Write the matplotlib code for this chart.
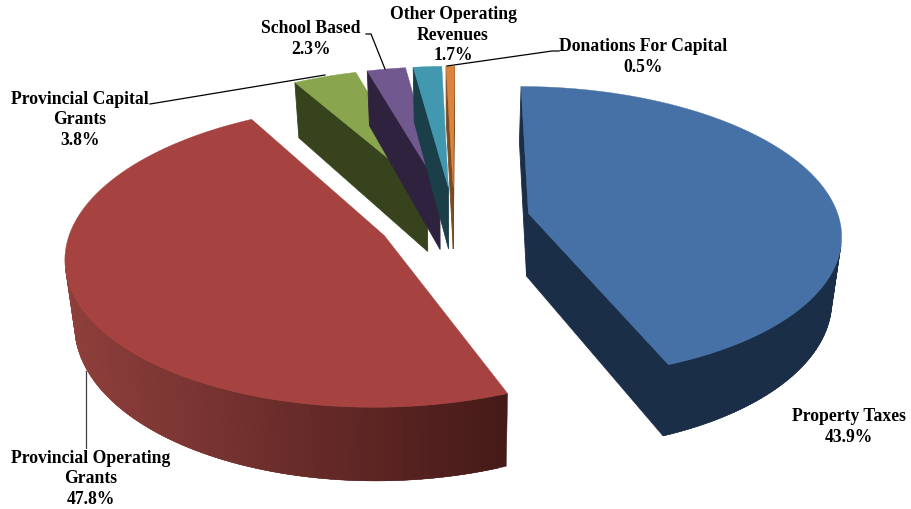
import numpy as np
import matplotlib
matplotlib.use("Agg")
import matplotlib.pyplot as plt
from matplotlib.colors import to_rgb

# chart data, clockwise from 12 o'clock
names = ["Property Taxes", "Provincial Operating\nGrants", "Provincial Capital\nGrants",
         "School Based", "Other Operating\nRevenues", "Donations For Capital"]
values = [43.9, 47.8, 3.8, 2.3, 1.7, 0.5]

top_colors = ["#4671A7", "#A64340", "#89A54E", "#71588F", "#4198AF", "#DB843D"]
wall_left = ["#1B2E47", "#8F3F3C", "#37431C", "#2E223F", "#1A3F49", "#7C4A1E"]
wall_right = ["#1B2E47", "#451A18", "#37431C", "#2E223F", "#1A3F49", "#7C4A1E"]

# how far each slice is pulled out of the pie
explode = [0.245, 0.245, 0.23, 0.23, 0.23, 0.23]

# label centre in pixels, per slice
label_x = [849, 91, 80, 311, 453, 643]
label_y = [427, 479, 120, 39, 35, 57]

# pie geometry in pixels
cx, cy = 454, 221
rx, ry = 311, 145
persp = 0.13
depth = 63
shrink = 0.975
start = np.radians(0.25)


def project(u, v, low=False):
    s = 1 / (1 + persp * v)
    x = cx + rx * u * s
    y = cy - ry * v * s
    if low:
        x = cx + (x - cx) * shrink
        y = y + depth * s
    return x, y


def area(xs, ys):
    return 0.5 * np.sum(xs * np.roll(ys, -1) - np.roll(xs, -1) * ys)


def draw_face(ax, pts, color, z, lw=0.3):
    pts = np.array(pts)
    # faces turned away from the viewer wind the other way round, skip them
    if area(pts[:, 0], pts[:, 1]) < 0:
        ax.fill(pts[:, 0], pts[:, 1], color=color, lw=lw, zorder=z)


fig = plt.figure(figsize=(9.11, 5.10), dpi=100)
ax = fig.add_axes([0, 0, 1, 1])
ax.set_xlim(0, 911)
ax.set_ylim(510, 0)
ax.axis("off")

angles = start + np.cumsum([0] + values) / sum(values) * 2 * np.pi
for i in range(len(values)):
    a0, a1 = angles[i], angles[i + 1]
    mid = (a0 + a1) / 2
    ou = explode[i] * np.sin(mid)
    ov = explode[i] * np.cos(mid)
    t = np.linspace(a0, a1, 120)
    arc_u = ou + np.sin(t)
    arc_v = ov + np.cos(t)
    left = np.array(to_rgb(wall_left[i]))
    right = np.array(to_rgb(wall_right[i]))
    z = 2 + i * 3

    # flat faces along the two cuts
    for a, b in [((ou, ov), (arc_u[0], arc_v[0])), ((arc_u[-1], arc_v[-1]), (ou, ov))]:
        face = [project(*a), project(*b), project(*b, low=True), project(*a, low=True)]
        draw_face(ax, face, wall_right[i], z, lw=0.6)

    # outer wall, cut in strips so that it can shade from left to right
    # each strip runs over the next one or the seams show through
    arc_x, arc_y = project(arc_u, arc_v)
    low_x, low_y = project(arc_u, arc_v, low=True)
    x_min, x_max = arc_x.min(), arc_x.max()
    for k in range(len(t) - 1):
        frac = ((arc_x[k] + arc_x[k + 1]) / 2 - x_min) / (x_max - x_min)
        col = left + (right - left) * frac
        e = min(k + 3, len(t))
        quad = list(zip(arc_x[k:e], arc_y[k:e])) + list(zip(low_x[k:e][::-1], low_y[k:e][::-1]))
        draw_face(ax, quad, col, z + 1)

    # top of the slice
    ax_x, ax_y = project(ou, ov)
    ax.fill(np.r_[ax_x, arc_x], np.r_[ax_y, arc_y], color=top_colors[i], lw=0.3, zorder=z + 2)

# leader lines
ax.plot([86, 86], [372, 449], color="#404040", lw=0.9, zorder=30)
ax.plot([150, 325], [105, 76], color="black", lw=0.9, zorder=30)
ax.plot([366, 371, 385], [35, 35, 70], color="black", lw=0.9, zorder=30)
ax.plot([559, 552, 447], [52, 52, 67], color="black", lw=0.9, zorder=30)

for name, val, lx, ly in zip(names, values, label_x, label_y):
    ax.text(lx, ly, name + "\n" + str(val) + "%", ha="center", va="center", family="Liberation Serif",
            weight="bold", fontsize=12.7, linespacing=1.3, color="black", zorder=31)

fig.savefig("out.png", dpi=100)
